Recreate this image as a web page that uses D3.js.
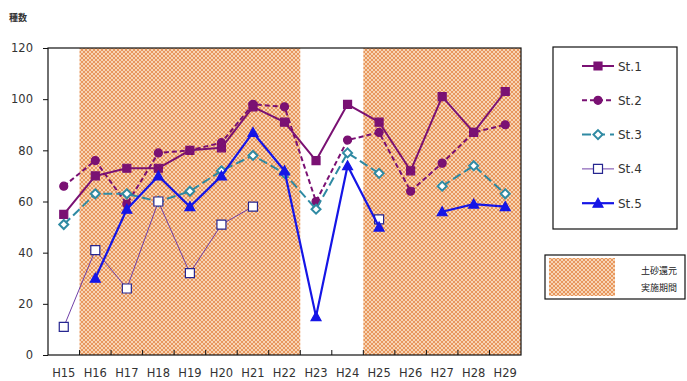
<!DOCTYPE html>
<html>
<head>
<meta charset="utf-8">
<script src="https://cdn.jsdelivr.net/npm/d3@7"></script>
<style>
  html, body { margin: 0; padding: 0; background: #fff; }
  svg { display: block; }
</style>
</head>
<body>
<svg id="chart" width="687" height="381"></svg>
<script>
// Survey years and species counts per station
const years = ["H15","H16","H17","H18","H19","H20","H21","H22","H23","H24","H25","H26","H27","H28","H29"];
const st1 = [55, 70, 73, 73, 80, 81, 97, 91, 76, 98, 91, 72, 101, 87, 103];
const st2 = [66, 76, 59, 79, 80, 83, 98, 97, 60, 84, 87, 64, 75, 87, 90];
const st3 = [51, 63, 63, 60, 64, 72, 78, 71, 57, 79, 71, null, 66, 74, 63];
const st4 = [11, 41, 26, 60, 32, 51, 58, null, null, null, 53, null, null, null, null];
const st5 = [null, 30, 57, 70, 58, 70, 87, 72, 15, 74, 50, null, 56, 59, 58];
const yTicks = [0, 20, 40, 60, 80, 100, 120];
// Periods of sediment return (first and last year of each)
const shadeSpans = [["H16", "H22"], ["H25", "H29"]];

const seriesNames = ["St.1", "St.2", "St.3", "St.4", "St.5"];
const seriesValues = [st1, st2, st3, st4, st5];
const styles = {
  "St.1": { color: "#7a1173", width: 2, dash: null, marker: "square", fill: "#7a1173", stroke: "#7a1173", size: 8 },
  "St.2": { color: "#7a1173", width: 2, dash: "5,3", marker: "circle", fill: "#7a1173", stroke: "#7a1173", size: 8 },
  "St.3": { color: "#2f8aa3", width: 2, dash: "9,4", marker: "diamond", fill: "#ffffff", stroke: "#2f8aa3", size: 9 },
  "St.4": { color: "#7040a8", width: 1, dash: null, marker: "square", fill: "#ffffff", stroke: "#262690", size: 9 },
  "St.5": { color: "#1515e6", width: 2.2, dash: null, marker: "triangle", fill: "#1515e6", stroke: "#1515e6", size: 10 }
};

const svg = d3.select("#chart");
const plot = { left: 48, right: 521, top: 48, bottom: 355 };

const x = d3.scaleBand().domain(years).range([plot.left, plot.right]).padding(0);
const y = d3.scaleLinear().domain([0, 120]).range([plot.bottom, plot.top]);
const cx = d => x(d) + x.bandwidth() / 2;

// Dotted orange fill for the sediment-return periods
const defs = svg.append("defs");
const pat = defs.append("pattern")
  .attr("id", "sand").attr("patternUnits", "userSpaceOnUse")
  .attr("width", 4).attr("height", 4);
pat.append("rect").attr("width", 4).attr("height", 4).attr("fill", "#fbe2c8");
pat.append("circle").attr("cx", 0).attr("cy", 0).attr("r", 1.2).attr("fill", "#e8955a");
pat.append("circle").attr("cx", 4).attr("cy", 0).attr("r", 1.2).attr("fill", "#e8955a");
pat.append("circle").attr("cx", 0).attr("cy", 4).attr("r", 1.2).attr("fill", "#e8955a");
pat.append("circle").attr("cx", 4).attr("cy", 4).attr("r", 1.2).attr("fill", "#e8955a");
pat.append("circle").attr("cx", 2).attr("cy", 2).attr("r", 1.2).attr("fill", "#e8955a");

svg.append("g").selectAll("rect").data(shadeSpans).join("rect")
  .attr("x", d => x(d[0]))
  .attr("y", plot.top)
  .attr("width", d => x(d[1]) + x.bandwidth() - x(d[0]))
  .attr("height", plot.bottom - plot.top)
  .attr("fill", "url(#sand)");

// Plot frame
svg.append("rect")
  .attr("x", plot.left).attr("y", plot.top)
  .attr("width", plot.right - plot.left).attr("height", plot.bottom - plot.top)
  .attr("fill", "none").attr("stroke", "#111").attr("stroke-width", 1.2);

// Y axis
const yAxis = d3.axisLeft(y).tickValues(yTicks).tickSize(5).tickPadding(10);
const gy = svg.append("g").attr("transform", `translate(${plot.left},0)`).call(yAxis);
gy.select(".domain").remove();
gy.selectAll("line").attr("stroke", "#111");
gy.selectAll("text").attr("font-family", "DejaVu Sans, Verdana, sans-serif")
  .attr("font-size", 11.5).attr("fill", "#333");

// X axis with inward ticks on category boundaries
const gx = svg.append("g").attr("transform", `translate(0,${plot.bottom})`);
gx.selectAll("line").data(years.slice(1)).join("line")
  .attr("x1", d => x(d)).attr("x2", d => x(d))
  .attr("y1", 0).attr("y2", -5).attr("stroke", "#111");
gx.selectAll("text").data(years).join("text")
  .attr("x", d => cx(d)).attr("y", 22)
  .attr("text-anchor", "middle")
  .attr("font-family", "DejaVu Sans, Verdana, sans-serif")
  .attr("font-size", 11.5).attr("fill", "#333")
  .text(d => d);

// Y axis title
svg.append("text").attr("x", 9).attr("y", 21)
  .attr("font-family", "Noto Sans CJK JP, sans-serif").attr("font-size", 9)
  .attr("font-weight", "bold").attr("fill", "#333").text("種数");

// Marker shapes
function markerPath(type, size) {
  const s = size / 2;
  if (type === "square") return `M${-s},${-s}H${s}V${s}H${-s}Z`;
  if (type === "diamond") return `M0,${-s}L${s},0L0,${s}L${-s},0Z`;
  if (type === "triangle") return `M0,${-s}L${s},${s * 0.8}L${-s},${s * 0.8}Z`;
  return d3.symbol(d3.symbolCircle, Math.PI * s * s)();
}

const line = d3.line()
  .defined(d => d.v != null)
  .x(d => cx(d.year))
  .y(d => y(d.v));

seriesNames.forEach((name, i) => {
  const st = styles[name];
  const pts = years.map((yr, j) => ({ year: yr, v: seriesValues[i][j] }));
  const g = svg.append("g");
  g.append("path").datum(pts).attr("d", line)
    .attr("fill", "none").attr("stroke", st.color)
    .attr("stroke-width", st.width)
    .attr("stroke-dasharray", st.dash)
    .attr("stroke-linejoin", "round");
  g.selectAll("path.pt").data(pts.filter(d => d.v != null)).join("path")
    .attr("class", "pt")
    .attr("transform", d => `translate(${cx(d.year)},${y(d.v)})`)
    .attr("d", markerPath(st.marker, st.size))
    .attr("fill", st.fill).attr("stroke", st.stroke)
    .attr("stroke-width", st.marker === "diamond" ? 2 : 1.2);
});

// Series legend
const lg = svg.append("g");
lg.append("rect").attr("x", 553).attr("y", 47).attr("width", 124).attr("height", 182)
  .attr("fill", "#fff").attr("stroke", "#111").attr("stroke-width", 1.2);
seriesNames.forEach((name, i) => {
  const st = styles[name];
  const ly = 66 + i * 34.3;
  lg.append("line").attr("x1", 582).attr("x2", 614).attr("y1", ly).attr("y2", ly)
    .attr("stroke", st.color).attr("stroke-width", st.width)
    .attr("stroke-dasharray", st.dash === "9,4" ? "9,5" : st.dash);
  lg.append("path").attr("transform", `translate(598,${ly})`)
    .attr("d", markerPath(st.marker, st.size))
    .attr("fill", st.fill).attr("stroke", st.stroke)
    .attr("stroke-width", st.marker === "diamond" ? 2 : 1.2);
  lg.append("text").attr("x", 618).attr("y", ly + 4.5)
    .attr("font-family", "DejaVu Sans, Verdana, sans-serif")
    .attr("font-size", 12).attr("fill", "#333").text(name);
});

// Shading legend
const sg = svg.append("g");
sg.append("rect").attr("x", 545).attr("y", 255).attr("width", 140).attr("height", 44)
  .attr("fill", "#fff").attr("stroke", "#111").attr("stroke-width", 1.2);
sg.append("rect").attr("x", 549).attr("y", 258).attr("width", 66).attr("height", 38)
  .attr("fill", "url(#sand)");
sg.append("text").attr("x", 677).attr("y", 274).attr("text-anchor", "end")
  .attr("font-family", "Noto Sans CJK JP, sans-serif").attr("font-size", 9)
  .attr("fill", "#222").text("土砂還元");
sg.append("text").attr("x", 677).attr("y", 291).attr("text-anchor", "end")
  .attr("font-family", "Noto Sans CJK JP, sans-serif").attr("font-size", 9)
  .attr("fill", "#222").text("実施期間");
</script>
</body>
</html>
